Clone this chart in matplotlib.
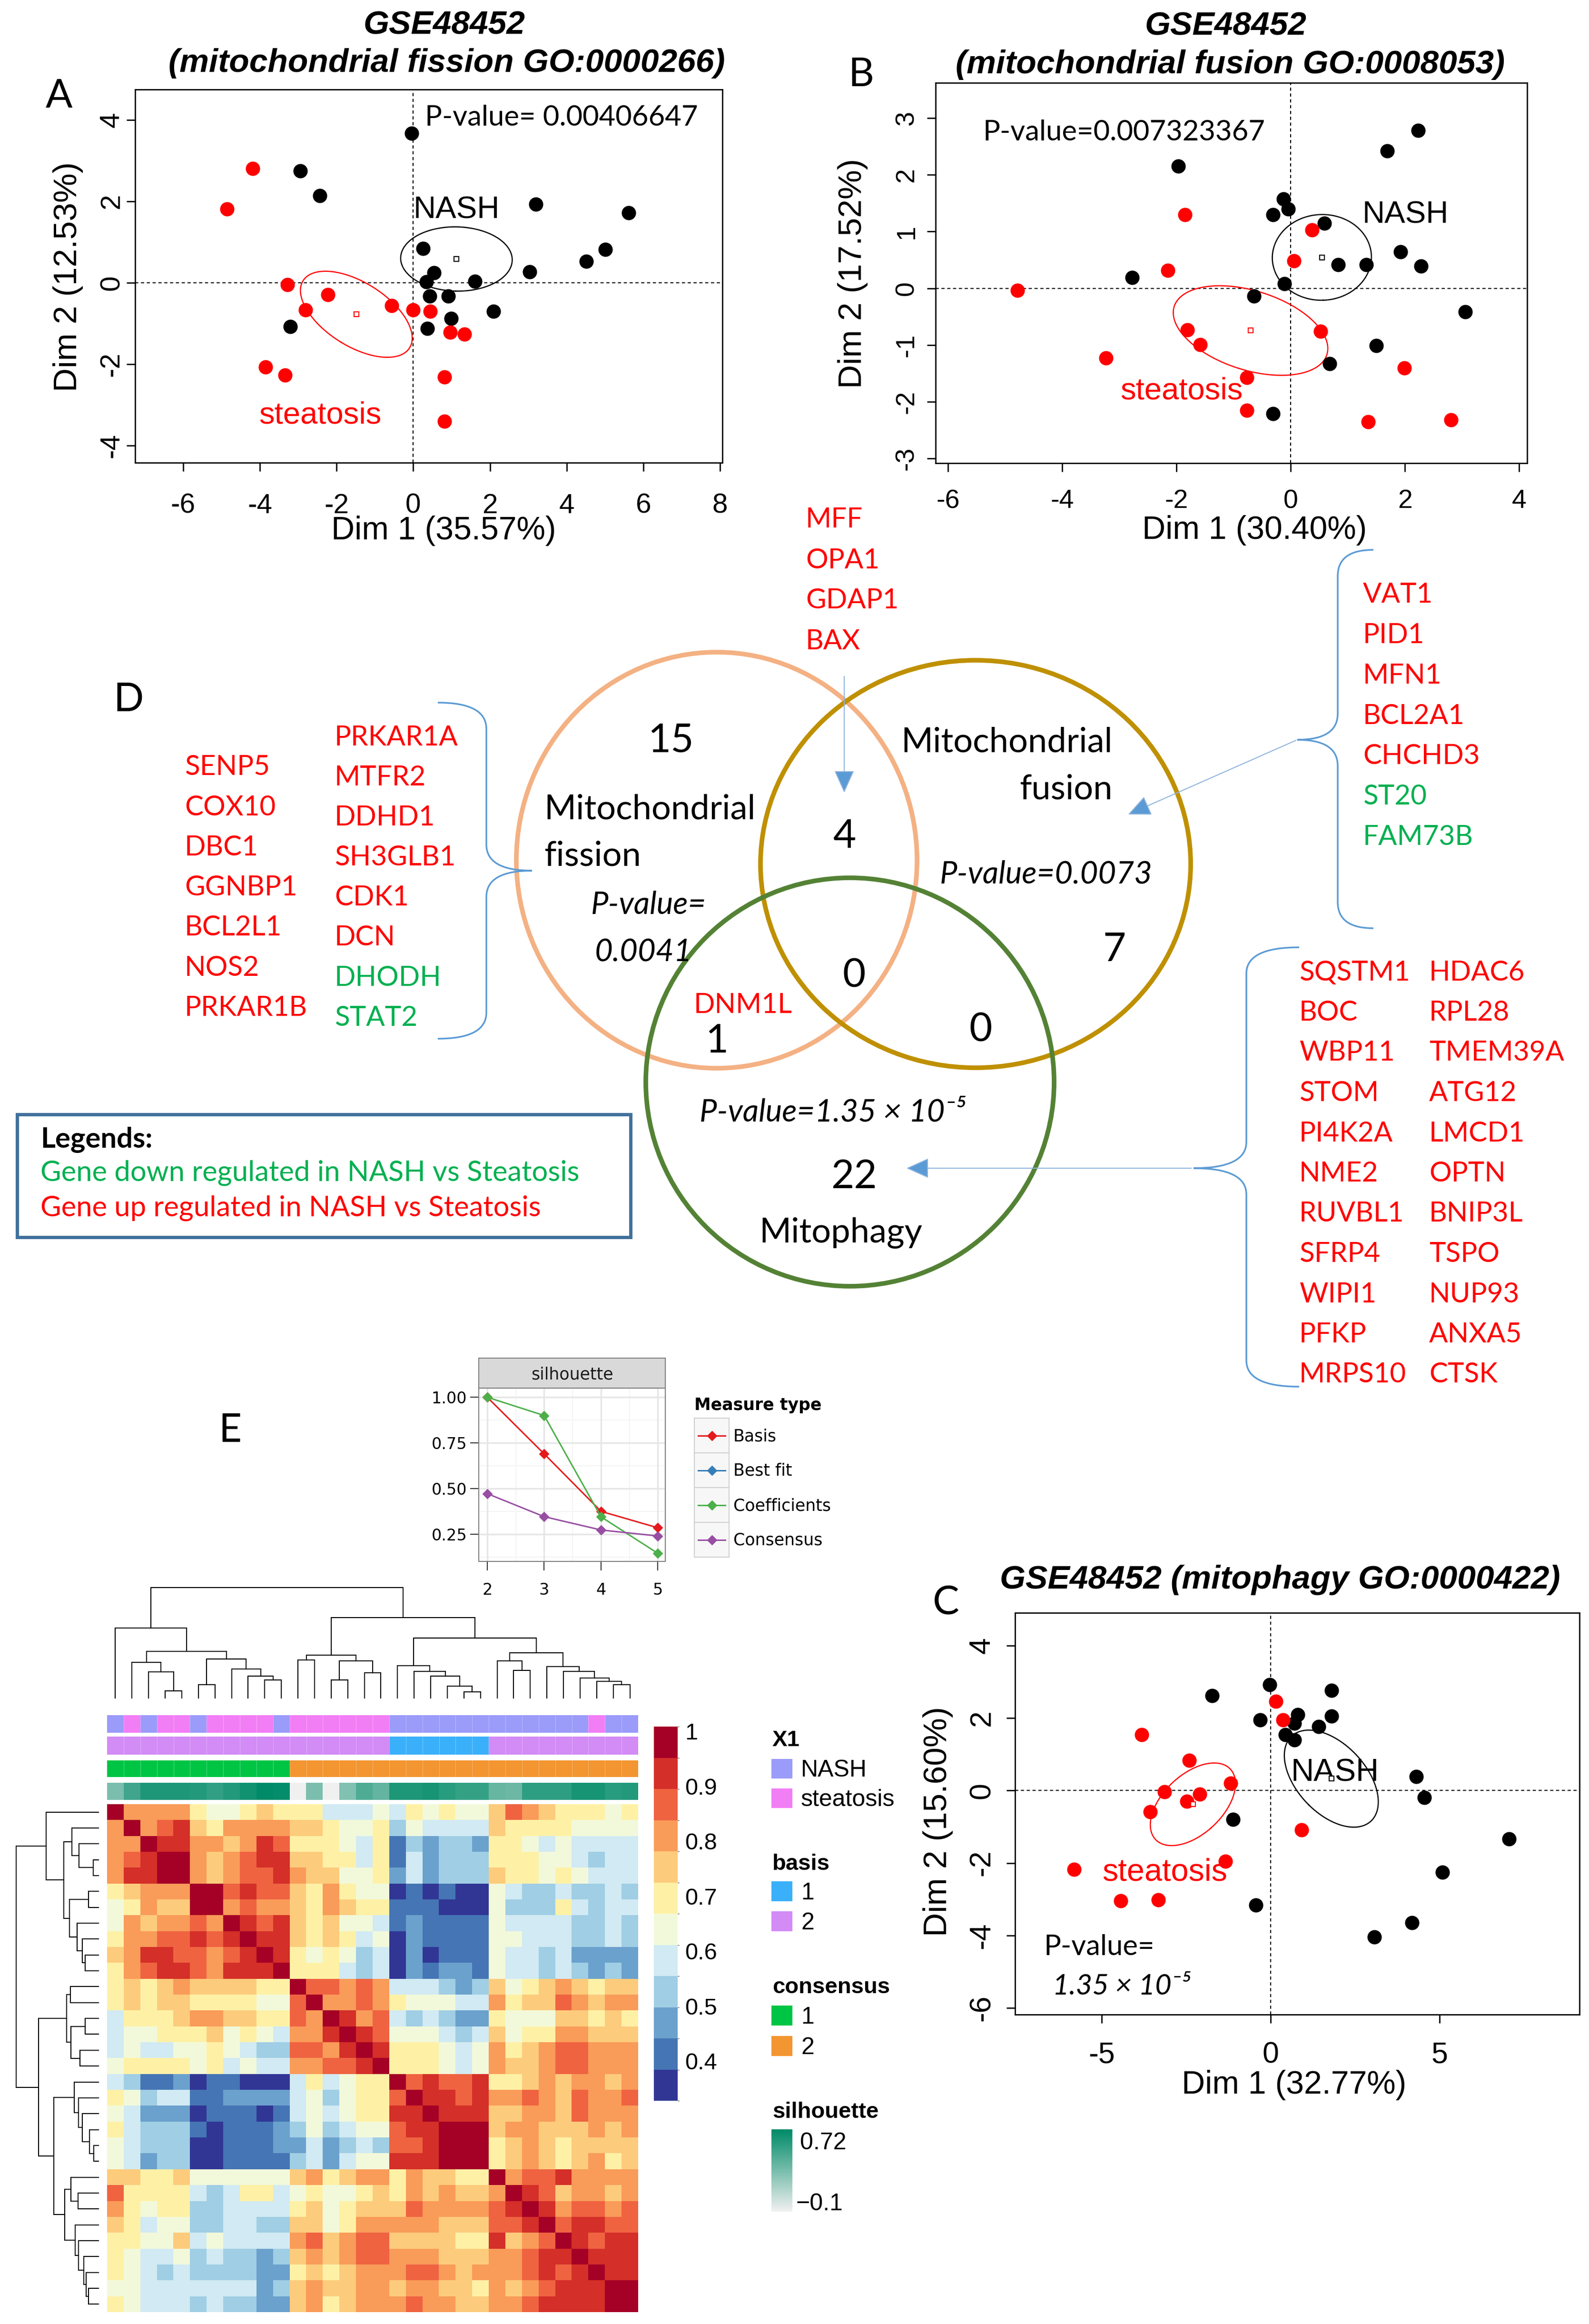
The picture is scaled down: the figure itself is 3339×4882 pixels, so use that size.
import numpy as np
import matplotlib
matplotlib.use("Agg")
import matplotlib.pyplot as plt
from matplotlib.patches import Ellipse, Rectangle, PathPatch
from matplotlib.path import Path
from matplotlib.colors import ListedColormap, BoundaryNorm, LinearSegmentedColormap
from matplotlib.colorbar import ColorbarBase

plt.rcParams['font.family'] = ['Liberation Sans', 'DejaVu Sans']
plt.rcParams['axes.unicode_minus'] = False

W, H = 3339, 4882
CAL = ['Lato', 'DejaVu Sans']      # stand-in for the Calibri text of the figure
RED = '#ff0000'
GREEN = '#00b050'
BLUE = '#5b9bd5'

# ---------------- individuals on Dim1/Dim2 ----------------
fis_nash_x = [-0.04, -2.95, -2.44, 3.20, 5.61, 5.01, 4.51, 3.04, 0.25, 0.54, 0.34, 1.61, 0.43, 0.91, 2.09, 0.99, 0.37, -3.20]
fis_nash_y = [3.67, 2.75, 2.14, 1.93, 1.72, 0.82, 0.53, 0.27, 0.84, 0.25, 0.02, 0.04, -0.33, -0.33, -0.70, -0.88, -1.12, -1.08]
fis_stea_x = [-4.19, -4.86, -3.28, -2.23, -2.81, -0.56, -0.01, 0.44, 0.96, 1.34, -3.85, -3.34, 0.81, 0.81]
fis_stea_y = [2.81, 1.81, -0.04, -0.29, -0.66, -0.56, -0.66, -0.70, -1.22, -1.26, -2.07, -2.27, -2.31, -3.40]

fus_nash_x = [2.23, 1.69, -1.97, -0.13, -0.04, -0.31, 0.59, 1.92, 0.83, 1.32, 2.28, -2.78, -0.11, -0.64, 3.06, 1.50, 0.68, -0.31]
fus_nash_y = [2.78, 2.42, 2.15, 1.57, 1.40, 1.30, 1.15, 0.64, 0.42, 0.42, 0.39, 0.19, 0.08, -0.14, -0.41, -1.01, -1.33, -2.21]
fus_stea_x = [-1.85, 0.37, 0.06, -2.15, -4.79, -1.81, -1.59, 0.52, -3.24, 1.99, -0.77, -0.77, 1.36, 2.81]
fus_stea_y = [1.30, 1.03, 0.48, 0.32, -0.04, -0.73, -0.99, -0.76, -1.23, -1.40, -1.57, -2.15, -2.35, -2.32]

mit_nash_x = [-0.03, -1.73, 1.81, -0.31, 0.80, 1.81, 0.71, 1.42, 0.44, 0.71, 4.31, 4.55, -1.12, 7.07, 5.09, -0.43, 4.19, 3.08]
mit_nash_y = [2.92, 2.62, 2.76, 1.94, 2.09, 2.05, 1.86, 1.76, 1.54, 1.39, 0.38, -0.20, -0.80, -1.33, -2.26, -3.16, -3.64, -4.04]
mit_stea_x = [0.15, 0.37, -3.82, -2.41, -1.19, -3.15, -2.10, -2.48, -3.57, 0.91, -1.34, -5.82, -4.44, -3.33]
mit_stea_y = [2.46, 1.94, 1.54, 0.83, 0.20, -0.04, -0.10, -0.30, -0.59, -1.08, -1.95, -2.18, -3.04, -3.02]

dim_pct = [(35.57, 12.53), (30.40, 17.52), (32.77, 15.60)]
pca_pvalues = ['0.00406647', '0.007323367', '1.35 \u00d7 10\u207b\u2075']

# ---------------- Venn (D) ----------------
fission_genes = ['SENP5', 'COX10', 'DBC1', 'GGNBP1', 'BCL2L1', 'NOS2', 'PRKAR1B',
                 'PRKAR1A', 'MTFR2', 'DDHD1', 'SH3GLB1', 'CDK1', 'DCN', 'DHODH', 'STAT2']
fusion_genes = ['VAT1', 'PID1', 'MFN1', 'BCL2A1', 'CHCHD3', 'ST20', 'FAM73B']
fis_fus_genes = ['MFF', 'OPA1', 'GDAP1', 'BAX']
fis_mito_genes = ['DNM1L']
fus_mito_genes = []
all_three_genes = []
mitophagy_genes = ['SQSTM1', 'BOC', 'WBP11', 'STOM', 'PI4K2A', 'NME2', 'RUVBL1', 'SFRP4', 'WIPI1', 'PFKP', 'MRPS10',
                   'HDAC6', 'RPL28', 'TMEM39A', 'ATG12', 'LMCD1', 'OPTN', 'BNIP3L', 'TSPO', 'NUP93', 'ANXA5', 'CTSK']
down_genes = ['DHODH', 'STAT2', 'ST20', 'FAM73B']
venn_pvalues = ['0.0041', '0.0073', '1.35 \u00d7 10\u207b\u2075']

# ---------------- E: NMF rank survey ----------------
ranks = [2, 3, 4, 5]
sil_basis = [1.00, 0.69, 0.375, 0.285]
sil_bestfit = [np.nan, np.nan, np.nan, np.nan]
sil_coef = [1.00, 0.90, 0.345, 0.145]
sil_cons = [0.472, 0.346, 0.273, 0.24]
sil_names = ['Basis', 'Best fit', 'Coefficients', 'Consensus']
sil_colors = ['#e41a1c', '#377eb8', '#4daf4a', '#984ea3']

# consensus matrix, one char per cell = colour bin (0 lowest .. B highest)
consensus_bins = [
    "B8888655676664445465655798766656",
    "8B89A768888776556354444766665555",
    "88BAA8878A9666546132332665454444",
    "89ABB8789AA776646142333666554344",
    "8AABB87899A877556242333766565444",
    "67888BB9A99768655010100543343343",
    "56877BB8988768766111000533364344",
    "5878898BA9A767554121111544443343",
    "68899A9ABAA767645021111554443343",
    "78AA9989ABA656534020111544342222",
    "689AA98AAAB666434021221544343232",
    "67678777766B99898444323756787677",
    "676776666559B8898655544867798788",
    "4666788776698BA89434322655577676",
    "4556667565488ABA9555434756688777",
    "45445565433998ABA666545867899888",
    "566665645448899AB666545877899888",
    "43112011000464566B9A99A667878878",
    "653441122224535669BAA9A889879889",
    "54222011101454566AABAAA778879888",
    "643331011123534559AABBB788777878",
    "5433300111224234399ABBB678767777",
    "54233001111342455AAABBB678767867",
    "77667555555786788687766B899A8888",
    "966664346645655676878778BA978878",
    "865663344446756777988889ABA89989",
    "7645533443377568888877799AB9AA99",
    "66557454444897899777766A789BA9AA",
    "65445343323787899888777889AABAAA",
    "65434333322676788899878889A9ABAA",
    "554444444237877887887768789AAABB",
    "65444343322786788898877889AAAABB",
]
cons_lo, cons_step = 0.328, 0.0567
sample_group = "NSNSSNSSSSNSSSSSSNNNNNNNNNNNNSNN"   # N = NASH, S = steatosis
basis_cl = "22222222222222222111111222222222"
consensus_cl = "11111111111222222222222222222222"
silhouette = [0.30, 0.50, 0.62, 0.62, 0.62, 0.60, 0.55, 0.60, 0.66, 0.72, 0.70, -0.10, 0.30, -0.10, 0.28, 0.45,
              0.38, 0.62, 0.62, 0.64, 0.58, 0.54, 0.54, 0.37, 0.35, 0.56, 0.56, 0.56, 0.64, 0.64, 0.58, 0.60]
# hierarchical clustering (linkage style: leaf ids 0-31, merged clusters 32+)
col_merges = [
    (3, 4, 0.064), (2, 32, 0.236), (1, 33, 0.322), (5, 6, 0.120), (9, 10, 0.163), (8, 36, 0.197),
    (7, 37, 0.262), (35, 38, 0.352), (34, 39, 0.421), (0, 40, 0.635), (11, 12, 0.343), (13, 14, 0.163),
    (15, 16, 0.227), (43, 44, 0.335), (42, 45, 0.386), (21, 22, 0.056), (20, 47, 0.107), (19, 48, 0.197),
    (18, 49, 0.240), (17, 50, 0.292), (24, 25, 0.249), (23, 52, 0.335), (30, 31, 0.120), (29, 54, 0.150),
    (28, 55, 0.180), (27, 56, 0.240), (26, 57, 0.283), (53, 58, 0.408), (51, 59, 0.541), (46, 60, 0.730),
    (41, 61, 1.000),
]

fig = plt.figure(figsize=(W / 100, H / 100), dpi=100)


def fbox(x0, y0, x1, y1):
    return [x0 / W, 1 - y1 / H, (x1 - x0) / W, (y1 - y0) / H]


def pca_panel(box, xlim, ylim, xt, yt, nx, ny, sx, sy, fs, xpad, ypad, tlen):
    ax = fig.add_axes(fbox(*box))
    ax.axhline(0, color='black', lw=1.6, ls=(0, (3, 2.5)), zorder=1)
    ax.axvline(0, color='black', lw=1.6, ls=(0, (3, 2.5)), zorder=1)
    tt = np.linspace(0, 2 * np.pi, 240)
    for xs, ys, col in [(nx, ny, 'black'), (sx, sy, RED)]:
        xs = np.asarray(xs)
        ys = np.asarray(ys)
        ax.scatter(xs, ys, s=470, color=col, lw=0, zorder=3)
        # 95% confidence ellipse around the group mean
        mx, my = xs.mean(), ys.mean()
        vals, vecs = np.linalg.eigh(np.cov(xs, ys) / len(xs))
        circ = np.vstack([np.cos(tt), np.sin(tt)]) * np.sqrt(vals * 5.991)[:, None]
        ex, ey = vecs @ circ
        ax.plot(mx + ex, my + ey, color=col, lw=1.8, zorder=2)
        ax.plot(mx, my, 's', ms=7, mfc='white', mec=col, mew=1.6, zorder=4)
    ax.set_xlim(xlim)
    ax.set_ylim(ylim)
    ax.set_xticks(xt)
    ax.set_yticks(yt)
    ax.set_yticklabels([str(v) for v in yt], rotation=90, va='center')
    ax.tick_params(length=tlen, width=2, labelsize=fs)
    ax.tick_params(axis='x', pad=xpad)
    ax.tick_params(axis='y', pad=ypad)
    for s in ax.spines.values():
        s.set_linewidth(2)
    return ax


# ---------------- A ----------------
axA = pca_panel((284, 188, 1518, 972), (-7.25, 8.06), (-4.42, 4.75), range(-6, 9, 2), range(-4, 5, 2),
                fis_nash_x, fis_nash_y, fis_stea_x, fis_stea_y, 42, 33, 3, 13)
axA.text(1.13, 1.79, 'NASH', fontsize=47, ha='center', va='center')
axA.text(-2.42, -3.26, 'steatosis', fontsize=47, color=RED, ha='center', va='center')
axA.text(0.30, 4.06, 'P-value= ' + pca_pvalues[0], fontsize=43, family=CAL, ha='left', va='center')

# ---------------- B ----------------
axB = pca_panel((1966, 174, 3209, 973), (-6.22, 4.14), (-3.08, 3.62), range(-6, 5, 2), range(-3, 4),
                fus_nash_x, fus_nash_y, fus_stea_x, fus_stea_y, 40, 26, 12, 13)
axB.text(2.01, 1.29, 'NASH', fontsize=47, ha='center', va='center')
axB.text(-1.91, -1.81, 'steatosis', fontsize=47, color=RED, ha='center', va='center')
axB.text(-5.39, 2.75, 'P-value=' + pca_pvalues[1], fontsize=43, family=CAL, ha='left', va='center')

# ---------------- C ----------------
axC = pca_panel((2133, 3388, 3319, 4232), (-7.57, 9.15), (-6.18, 4.90), [-5, 0, 5], range(-6, 5, 2),
                mit_nash_x, mit_nash_y, mit_stea_x, mit_stea_y, 45, 27, 16, 13)
axC.text(1.91, 0.48, 'NASH', fontsize=48, ha='center', va='center')
axC.text(-3.13, -2.26, 'steatosis', fontsize=48, color=RED, ha='center', va='center')
axC.text(-6.72, -4.31, 'P-value=', fontsize=43, family=CAL, ha='left', va='center')
axC.text(-6.45, -5.40, pca_pvalues[2], fontsize=43, family=CAL, style='italic', ha='left', va='center')

# ---------------- E: silhouette inset ----------------
ax_s = fig.add_axes(fbox(1006, 2916, 1398, 3280))
for v in [0.125, 0.375, 0.625, 0.875]:
    ax_s.axhline(v, color='#f4f4f4', lw=1.5, zorder=0)
for v in [2.5, 3.5, 4.5]:
    ax_s.axvline(v, color='#f4f4f4', lw=1.5, zorder=0)
for v in [0.25, 0.5, 0.75, 1.0]:
    ax_s.axhline(v, color='#e6e6e6', lw=2.5, zorder=0)
for v in ranks:
    ax_s.axvline(v, color='#e6e6e6', lw=2.5, zorder=0)
for vals, col in zip([sil_basis, sil_bestfit, sil_coef, sil_cons], sil_colors):
    ax_s.plot(ranks, vals, color=col, lw=2.2, marker='D', ms=10, zorder=3)
ax_s.set_xlim(1.85, 5.13)
ax_s.set_ylim(0.101, 1.05)
ax_s.set_xticks(ranks)
ax_s.set_yticks([0.25, 0.5, 0.75, 1.0])
ax_s.set_yticklabels(['0.25', '0.50', '0.75', '1.00'])
ax_s.tick_params(axis='both', color='#333333', width=1.5, labelsize=24)
ax_s.tick_params(axis='y', length=13, pad=5)
ax_s.tick_params(axis='x', length=14, pad=18)
for lab in ax_s.get_xticklabels() + ax_s.get_yticklabels():
    lab.set_family('DejaVu Sans')
for s in ax_s.spines.values():
    s.set_color('#7f7f7f')
    s.set_linewidth(1.5)
ax_strip = fig.add_axes(fbox(1006, 2853, 1398, 2916))
ax_strip.set_facecolor('#d9d9d9')
ax_strip.set_xticks([])
ax_strip.set_yticks([])
for s in ax_strip.spines.values():
    s.set_color('#7f7f7f')
    s.set_linewidth(1.5)
ax_strip.text(0.5, 0.45, 'silhouette', transform=ax_strip.transAxes, ha='center', va='center',
              fontsize=25, family='DejaVu Sans', color='#1a1a1a')

# ---------------- E: consensus heatmap ----------------
hm_colors = ['#313695', '#4575b4', '#6ba1cd', '#a0cee4', '#d1eaf3', '#f2f9da',
             '#fef1a6', '#fdcb7c', '#f99b59', '#ef6341', '#d42f28', '#a50026']
hm_cmap = ListedColormap(hm_colors)
bounds = cons_lo + cons_step * np.arange(13)
hm_norm = BoundaryNorm(bounds, hm_cmap.N)
cons_vals = np.array([[cons_lo + (int(c, 16) + 0.5) * cons_step for c in row] for row in consensus_bins])
n = cons_vals.shape[0]

ax_hm = fig.add_axes(fbox(225, 3790, 1341, 4857))
ax_hm.imshow(cons_vals, cmap=hm_cmap, norm=hm_norm, aspect='auto', interpolation='nearest')
ax_hm.axis('off')

grp_colors = {'N': '#9b9bfa', 'S': '#f27ef5'}
basis_colors = {'1': '#3bb0fa', '2': '#d38bf6'}
cl_colors = {'1': '#00c544', '2': '#f39530'}
sil_cmap = LinearSegmentedColormap.from_list('sil', ['#f0f0f0', '#008b68'])
ann_rows = [((225, 3603, 1341, 3640), sample_group, grp_colors),
            ((225, 3648, 1341, 3686), basis_cl, basis_colors),
            ((225, 3698, 1341, 3733), consensus_cl, cl_colors)]
for bx, codes, cmap_d in ann_rows:
    a = fig.add_axes(fbox(*bx))
    keys = sorted(cmap_d)
    a.imshow(np.array([[keys.index(c) for c in codes]]), cmap=ListedColormap([cmap_d[k] for k in keys]),
             vmin=0, vmax=len(keys) - 1, aspect='auto', interpolation='nearest')
    for i in range(1, n):
        a.axvline(i - 0.5, color='white', lw=0.4, alpha=0.6)
    a.axis('off')
a = fig.add_axes(fbox(225, 3745, 1341, 3781))
a.imshow(np.array([silhouette]), cmap=sil_cmap, vmin=-0.1, vmax=0.72, aspect='auto', interpolation='nearest')
a.axis('off')


def dendro_segments(merges, nleaf):
    pos = {i: float(i) for i in range(nleaf)}
    hgt = {i: 0.0 for i in range(nleaf)}
    segs = []
    for k, (p, q, h) in enumerate(merges):
        segs.append(([pos[p], pos[p], pos[q], pos[q]], [hgt[p], h, h, hgt[q]]))
        pos[nleaf + k] = (pos[p] + pos[q]) / 2
        hgt[nleaf + k] = h
    return segs


segs = dendro_segments(col_merges, n)
ax_dt = fig.add_axes(fbox(225, 3335, 1341, 3567))
ax_dl = fig.add_axes(fbox(34, 3790, 207, 4857))
for xs, hs in segs:
    ax_dt.plot(xs, hs, color='black', lw=1.5, clip_on=False, solid_joinstyle='miter')
    ax_dl.plot(hs, xs, color='black', lw=1.5, clip_on=False, solid_joinstyle='miter')
ax_dt.set_xlim(-0.5, n - 0.5)
ax_dt.set_ylim(0, 1)
ax_dt.axis('off')
ax_dl.set_ylim(n - 0.5, -0.5)
ax_dl.set_xlim(1, 0)
ax_dl.axis('off')

cax = fig.add_axes(fbox(1374, 3627, 1424, 4413))
cb = ColorbarBase(cax, cmap=hm_cmap, norm=hm_norm, boundaries=bounds, ticks=[0.4, 0.5, 0.6, 0.7, 0.8, 0.9, 1.0])
cb.outline.set_visible(False)
cb.ax.set_yticklabels(['0.4', '0.5', '0.6', '0.7', '0.8', '0.9', '1'])
cax.tick_params(length=0, labelsize=35, pad=11)

ax_g = fig.add_axes(fbox(1621, 4473, 1665, 4646))
ax_g.imshow(np.linspace(0.72, -0.1, 100)[:, None], cmap=sil_cmap, vmin=-0.1, vmax=0.72, aspect='auto')
ax_g.axis('off')

# ---------------- overlay: texts, Venn, braces, legends ----------------
ov = fig.add_axes([0, 0, 1, 1])
ov.set_xlim(0, W)
ov.set_ylim(H, 0)
ov.axis('off')
ov.patch.set_visible(False)

tkw = dict(fontsize=50, fontweight='bold', style='italic', ha='center', va='center')
ov.text(934, 53, 'GSE48452', **tkw)
ov.text(939, 133, '(mitochondrial fission GO:0000266)', **tkw)
ov.text(2576, 55, 'GSE48452', **tkw)
ov.text(2585, 136, '(mitochondrial fusion GO:0008053)', **tkw)
ov.text(2690, 3319, 'GSE48452 (mitophagy GO:0000422)', **tkw)

lab_pos = [((932, 1115), (143, 582)), ((2636, 1114), (1792, 575)), ((2719, 4380), (1971, 3826))]
for (d1, d2), (xp, yp) in zip(dim_pct, lab_pos):
    ov.text(*xp, 'Dim 1 (%.2f%%)' % d1, fontsize=49, ha='center', va='center')
    ov.text(*yp, 'Dim 2 (%.2f%%)' % d2, fontsize=50, ha='center', va='center', rotation=90)

for letter, (x, y) in zip('ABCDE', [(124, 203), (1809, 158), (1988, 3369), (270, 1471), (483, 3006)]):
    ov.text(x, y, letter, fontsize=60, family=CAL, ha='center', va='center')

# Venn circles
for (cx, cy, rw, rh), col in zip([(1506, 1807, 421, 437), (2050, 1815, 452, 428), (1786, 2273, 429, 429)],
                                 ['#f4b183', '#bf9000', '#548235']):
    ov.add_patch(Ellipse((cx, cy), 2 * rw, 2 * rh, fill=False, ec=col, lw=7))

venn_counts = [len(fission_genes), len(fusion_genes), len(mitophagy_genes), len(fis_fus_genes),
               len(fis_mito_genes), len(fus_mito_genes), len(all_three_genes)]
count_pos = [(1410, 1557), (2342, 1996), (1795, 2473), (1774, 1758), (1506, 2188), (2061, 2165), (1795, 2050)]
for c, (x, y) in zip(venn_counts, count_pos):
    ov.text(x, y, str(c), fontsize=60, family=CAL, ha='center', va='center')

vk = dict(fontsize=52, family=CAL, va='center')
ov.text(1143, 1700, 'Mitochondrial', ha='left', **vk)
ov.text(1143, 1798, 'fission', ha='left', **vk)
ov.text(2338, 1559, 'Mitochondrial', ha='right', **vk)
ov.text(2338, 1658, 'fusion', ha='right', **vk)
ov.text(1767, 2590, 'Mitophagy', ha='center', **vk)
pk = dict(fontsize=47, family=CAL, style='italic', ha='center', va='center')
ov.text(1363, 1901, 'P-value=', **pk)
ov.text(1352, 2001, venn_pvalues[0], **pk)
ov.text(2198, 1836, 'P-value=' + venn_pvalues[1], **pk)
ov.text(1749, 2337, 'P-value=' + venn_pvalues[2], **pk)


def gene_col(genes, x, y0, dy):
    for i, g in enumerate(genes):
        ov.text(x, y0 + i * dy, g, fontsize=42, family=CAL, ha='left', va='center',
                color=GREEN if g in down_genes else RED)


gene_col(fission_genes[:7], 388, 1612, 84.2)
gene_col(fission_genes[7:], 703, 1549, 84.2)
gene_col(fusion_genes, 2864, 1250, 84.7)
gene_col(fis_fus_genes, 1693, 1092, 85)
gene_col(mitophagy_genes[:11], 2730, 2043, 84.5)
gene_col(mitophagy_genes[11:], 3003, 2043, 84.5)
ov.text(1561, 2111, fis_mito_genes[0], fontsize=42, family=CAL, ha='center', va='center', color=RED)


def brace(x_end, x_mid, x_tip, y_top, y_tip, y_bot, r=55):
    verts = [(x_end, y_top), (x_mid, y_top), (x_mid, y_top + r), (x_mid, y_tip - r), (x_mid, y_tip),
             (x_tip, y_tip), (x_mid, y_tip), (x_mid, y_tip + r), (x_mid, y_bot - r), (x_mid, y_bot),
             (x_end, y_bot)]
    codes = [Path.MOVETO, Path.CURVE3, Path.CURVE3, Path.LINETO, Path.CURVE3, Path.CURVE3,
             Path.CURVE3, Path.CURVE3, Path.LINETO, Path.CURVE3, Path.CURVE3]
    ov.add_patch(PathPatch(Path(verts, codes), fill=False, ec=BLUE, lw=2.5))


brace(920, 1022, 1118, 1476, 1829, 2182)
brace(2886, 2811, 2726, 1155, 1554, 1950)
brace(2730, 2619, 2508, 1990, 2454, 2913)

akw = dict(arrowstyle='-|>,head_length=1.0,head_width=0.45', color='#8fb3dd', lw=1.5, mutation_scale=30)
ov.annotate('', xy=(1774, 1668), xytext=(1774, 1418), arrowprops=dict(fc=BLUE, **akw))
ov.annotate('', xy=(2368, 1712), xytext=(2726, 1554), arrowprops=dict(fc=BLUE, **akw))
ov.annotate('', xy=(1902, 2454), xytext=(2506, 2454), arrowprops=dict(fc=BLUE, **akw))

ov.add_patch(Rectangle((36, 2341), 1289, 258, fill=False, ec='#41719c', lw=5))
ov.text(85, 2395, 'Legends:', fontsize=43, family=CAL, fontweight='bold', ha='left', va='center')
ov.text(85, 2464, 'Gene down regulated in NASH vs Steatosis', fontsize=43, family=CAL, color=GREEN,
        ha='left', va='center')
ov.text(85, 2538, 'Gene up regulated in NASH vs Steatosis', fontsize=43, family=CAL, color=RED,
        ha='left', va='center')

# silhouette inset legend (ggplot style)
ov.text(1459, 2952, 'Measure type', fontsize=25, family='DejaVu Sans', fontweight='bold', ha='left', va='center')
for i, (name, col) in enumerate(zip(sil_names, sil_colors)):
    y0 = 2979 + i * 73
    ov.add_patch(Rectangle((1459, y0), 73, 73, fc='#f7f7f7', ec='#d0d0d0', lw=1.5))
    ov.plot([1467, 1524], [y0 + 36.5, y0 + 36.5], color=col, lw=2.2)
    ov.plot(1495.5, y0 + 36.5, 'D', color=col, ms=10)
    ov.text(1541, y0 + 38, name, fontsize=25, family='DejaVu Sans', ha='left', va='center')

# heatmap annotation legend
lg = dict(fontsize=34, fontweight='bold', ha='left', va='center')
lt = dict(fontsize=36, ha='left', va='center')
ov.text(1623, 3656, 'X1', **lg)
for (y, lab), col in zip([(3715, 'NASH'), (3777, 'steatosis')], [grp_colors['N'], grp_colors['S']]):
    ov.add_patch(Rectangle((1621, y - 20), 44, 41, color=col, lw=0))
    ov.text(1683, y + 4, lab, **lt)
ov.text(1623, 3916, 'basis', **lg)
for y, k in zip([3973, 4036], ['1', '2']):
    ov.add_patch(Rectangle((1621, y - 21), 44, 42, color=basis_colors[k], lw=0))
    ov.text(1683, y + 4, k, **lt)
ov.text(1623, 4175, 'consensus', **lg)
for y, k in zip([4234, 4298], ['1', '2']):
    ov.add_patch(Rectangle((1621, y - 21), 44, 42, color=cl_colors[k], lw=0))
    ov.text(1683, y + 4, k, **lt)
ov.text(1623, 4437, 'silhouette', **lg)
ov.text(1681, 4502, '%.2f' % max(silhouette), **lt)
ov.text(1673, 4630, '\u2212%.1f' % abs(min(silhouette)), **lt)

fig.savefig('out.png', dpi=100)
